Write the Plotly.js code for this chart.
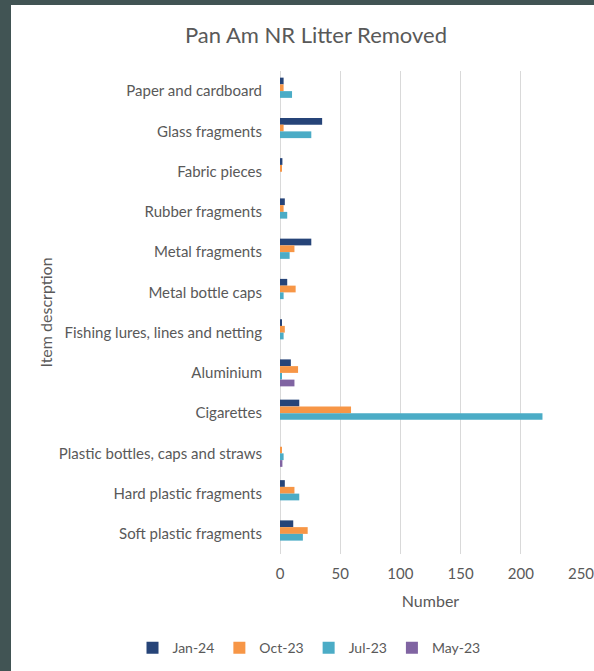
<!DOCTYPE html>
<html>
<head>
<meta charset="utf-8">
<script src="https://cdn.plot.ly/plotly-3.0.1.min.js"></script>
<style>
  html, body { margin: 0; padding: 0; width: 594px; height: 671px; overflow: hidden; background: #415454; }
  #chart { position: absolute; left: 11px; top: 5px; width: 610px; height: 666px; background: #ffffff; }
</style>
</head>
<body>
<div id="chart"></div>
<script>
const categories = [
  "Paper and cardboard",
  "Glass fragments",
  "Fabric pieces",
  "Rubber fragments",
  "Metal fragments",
  "Metal bottle caps",
  "Fishing lures, lines and netting",
  "Aluminium",
  "Cigarettes",
  "Plastic bottles, caps and straws",
  "Hard plastic fragments",
  "Soft plastic fragments"
];
const seriesNames = ["Jan-24", "Oct-23", "Jul-23", "May-23"];
const jan24 = [3, 35, 2, 4, 26, 6, 1, 9, 16, 0, 4, 11];
const oct23 = [3, 3, 1, 3, 12, 13, 4, 15, 59, 1, 12, 23];
const jul23 = [10, 26, 0, 6, 8, 3, 3, 1, 218, 3, 16, 19];
const may23 = [0, 0, 0, 0, 0, 0, 0, 12, 0, 2, 0, 0];
const xTicks = [0, 50, 100, 150, 200, 250];

const colors = ["#264478", "#F79646", "#4BACC6", "#8064A2"];
const values = [jan24, oct23, jul23, may23];
const textColor = "#595959";
const fontFamily = "Lato, 'Open Sans', sans-serif";

const traces = values.map((v, i) => ({
  type: "bar",
  orientation: "h",
  name: seriesNames[i],
  x: v,
  y: categories,
  marker: { color: colors[i] },
  hoverinfo: "x+name"
}));

const layout = {
  width: 610,
  height: 666,
  margin: { l: 269, r: 40, t: 66, b: 117, autoexpand: false },
  paper_bgcolor: "#ffffff",
  plot_bgcolor: "#ffffff",
  font: { family: fontFamily, color: textColor, size: 15 },
  title: {
    text: "Pan Am NR Litter Removed",
    font: { family: fontFamily, size: 22, color: textColor },
    x: 0.5, xanchor: "center", xref: "container",
    y: 0.955, yref: "container", yanchor: "middle"
  },
  barmode: "group",
  bargap: 0.33,
  bargroupgap: 0,
  xaxis: {
    range: [0, 250],
    tickvals: xTicks,
    ticktext: xTicks.map(String),
    showgrid: true,
    gridcolor: "#D9D9D9",
    gridwidth: 1,
    zeroline: true,
    zerolinecolor: "#D9D9D9",
    showline: false,
    ticks: "outside",
    ticklen: 6,
    tickcolor: "rgba(0,0,0,0)",
    tickfont: { size: 15, color: textColor },
    title: { text: "Number", font: { size: 16, color: textColor }, standoff: 14 },
    automargin: false,
    fixedrange: true
  },
  yaxis: {
    type: "category",
    autorange: "reversed",
    showgrid: false,
    zeroline: false,
    showline: false,
    ticks: "outside",
    ticklen: 14,
    tickcolor: "rgba(0,0,0,0)",
    tickfont: { size: 15, color: textColor },
    title: { text: "Item descrption", font: { size: 16, color: textColor }, standoff: 2 },
    automargin: false,
    fixedrange: true
  },
  legend: {
    orientation: "h",
    xref: "paper", yref: "paper",
    x: -0.49, xanchor: "left",
    y: -0.195, yanchor: "middle",
    font: { size: 14, color: textColor },
    itemwidth: 30,
    traceorder: "normal"
  },
  showlegend: true
};

Plotly.newPlot("chart", traces, layout, { displayModeBar: false });
</script>
</body>
</html>
